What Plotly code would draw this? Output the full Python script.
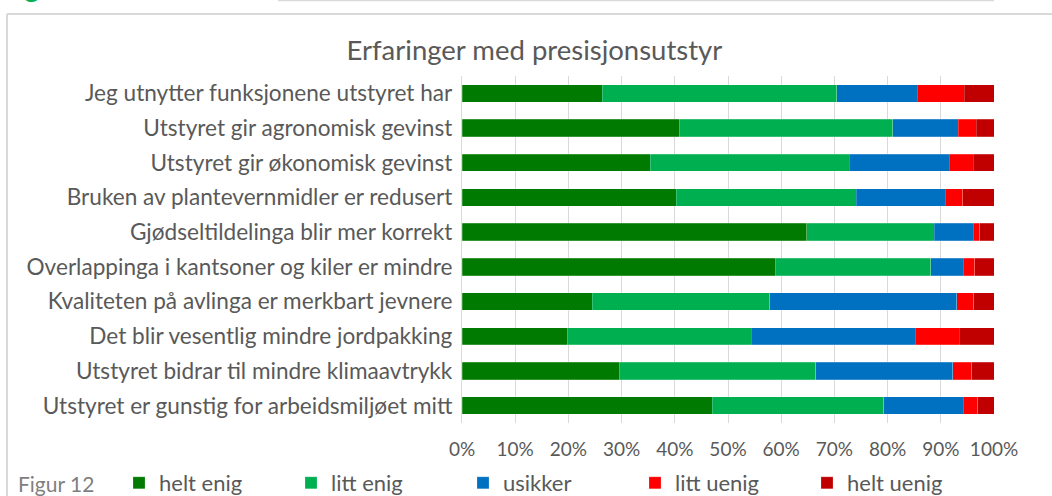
import plotly.graph_objects as go

categories = [
    "Jeg utnytter funksjonene utstyret har",
    "Utstyret gir agronomisk gevinst",
    "Utstyret gir økonomisk gevinst",
    "Bruken av plantevernmidler er redusert",
    "Gjødseltildelinga blir mer korrekt",
    "Overlappinga i kantsoner og kiler er mindre",
    "Kvaliteten på avlinga er merkbart jevnere",
    "Det blir vesentlig mindre jordpakking",
    "Utstyret bidrar til mindre klimaavtrykk",
    "Utstyret er gunstig for arbeidsmiljøet mitt",
]

helt_enig = [26.4, 40.8, 35.4, 40.3, 64.8, 59.0, 24.5, 19.8, 29.6, 47.0]
litt_enig = [44.0, 40.2, 37.4, 33.8, 24.0, 29.1, 33.3, 34.6, 36.9, 32.3]
usikker = [15.2, 12.3, 18.8, 16.7, 7.3, 6.1, 35.2, 30.8, 25.7, 14.9]
litt_uenig = [8.8, 3.4, 4.5, 3.3, 1.2, 2.2, 3.2, 8.3, 3.6, 2.7]
helt_uenig = [5.6, 3.3, 3.9, 5.9, 2.7, 3.6, 3.8, 6.5, 4.2, 3.1]

series_names = ["helt enig", "litt enig", "usikker", "litt uenig", "helt uenig"]
series_values = [helt_enig, litt_enig, usikker, litt_uenig, helt_uenig]
colors = ["#007A00", "#00B050", "#0070C0", "#FF0000", "#C00000"]

x_ticks = [0, 10, 20, 30, 40, 50, 60, 70, 80, 90, 100]
x_ticklabels = [f"{t}%" for t in x_ticks]

FONT = "Lato"
TEXT = "#595959"
W, H = 1052, 496
L, R, T, B = 462, 58, 76, 73
PW, PH = W - L - R, H - T - B

def px_x(px):
    return (px - L) / PW

def px_y(py):
    return (H - B - py) / PH

fig = go.Figure()
for name, vals, col in zip(series_names, series_values, colors):
    fig.add_trace(go.Bar(
        y=categories, x=vals, name=name, orientation="h",
        marker=dict(color=col, line=dict(color="rgba(255,255,255,0.35)", width=0.6)),
    ))

fig.update_layout(
    width=W, height=H,
    barmode="stack", bargap=0.5,
    margin=dict(l=L, r=R, t=T, b=B, autoexpand=False),
    paper_bgcolor="white", plot_bgcolor="white",
    font=dict(family=FONT, color=TEXT, size=22),
    title=dict(text="Erfaringer med presisjonsutstyr", x=0.508, xref="container",
               y=1 - 50 / H, yref="container", xanchor="center", yanchor="middle",
               font=dict(size=27.5, color=TEXT, family=FONT)),
    xaxis=dict(range=[0, 100], tickvals=x_ticks, ticktext=x_ticklabels,
               showgrid=True, gridcolor="#D9D9D9", gridwidth=1.3, zeroline=False,
               showline=False, ticks="", tickfont=dict(size=19, color=TEXT),
               ticklabelstandoff=13, fixedrange=True),
    yaxis=dict(autorange="reversed", showgrid=False, showline=True, linecolor="#D9D9D9",
               linewidth=1.3, ticks="", tickfont=dict(size=22.6, color=TEXT),
               ticklabelstandoff=4, fixedrange=True),
    legend=dict(orientation="h", xref="paper", yref="paper",
                x=px_x(119), y=px_y(483), xanchor="left", yanchor="middle",
                entrywidth=127, font=dict(size=22, color=TEXT), traceorder="normal",
                bgcolor="rgba(0,0,0,0)"),
    showlegend=True,
)

# frame lines (chart border) and top artefacts
fig.add_shape(type="line", xref="paper", yref="paper",
              x0=px_x(7), x1=px_x(7), y0=px_y(14), y1=px_y(H + 5),
              line=dict(color="#D9D9D9", width=2))
fig.add_shape(type="line", xref="paper", yref="paper",
              x0=px_x(7), x1=px_x(W + 5), y0=px_y(14), y1=px_y(14),
              line=dict(color="#D9D9D9", width=2))
fig.add_shape(type="line", xref="paper", yref="paper",
              x0=px_x(278), x1=px_x(994), y0=px_y(0.5), y1=px_y(0.5),
              line=dict(color="#D9D9D9", width=1.5))

fig.add_annotation(text="Figur 12", xref="paper", yref="paper",
                   x=px_x(16), y=px_y(483), xanchor="left", yanchor="middle",
                   showarrow=False, font=dict(size=21, color="#7F7F7F", family=FONT))
fig.add_annotation(text="g", xref="paper", yref="paper",
                   x=px_x(22), y=px_y(5), xanchor="left", yanchor="bottom",
                   showarrow=False, font=dict(size=30, color="#00B050", family=FONT))

fig.write_html(
    "out.html",
    config={"displayModeBar": False},
    post_script="document.body.style.margin='0';document.body.style.overflow='hidden';",
)
